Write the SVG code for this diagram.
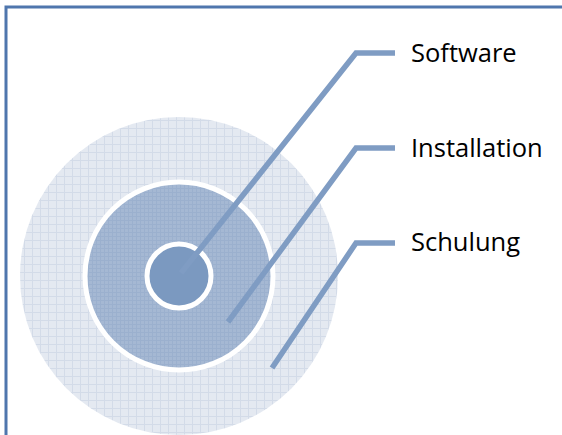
<svg xmlns="http://www.w3.org/2000/svg" width="562" height="435" viewBox="0 0 562 435">
<style>
.lbl{font-family:"Open Sans","Liberation Sans",sans-serif;font-size:25.5px;fill:#000}
.conn{fill:none;stroke:#7f9cc3;stroke-width:5.5;stroke-linejoin:miter}
</style>
<defs>
<pattern id="gOuter" width="8" height="8" patternUnits="userSpaceOnUse">
<rect width="8" height="8" fill="#e4e9f1"/>
<path d="M0 0.5H8M0.5 0V8" stroke="#d3dbe8" stroke-width="1"/>
</pattern>
<pattern id="gMid" width="4" height="4" patternUnits="userSpaceOnUse">
<rect width="4" height="4" fill="#a5b8d3"/>
<path d="M0 0.5H4M0.5 0V4" stroke="#9bb0ce" stroke-width="1"/>
</pattern>
</defs>
<rect width="562" height="435" fill="#fff"/>
<path d="M6 435V7H562" fill="none" stroke="#4f76ad" stroke-width="3"/>
<g id="schulung">
<circle cx="179" cy="276" r="159" fill="url(#gOuter)"/>
</g>
<g id="installation">
<circle cx="179" cy="276" r="94" fill="url(#gMid)" stroke="#fff" stroke-width="5"/>
</g>
<g id="software">
<circle cx="179" cy="276" r="32" fill="#7b99c0" stroke="#fff" stroke-width="5"/>
</g>
<g id="connectors">
<path class="conn" d="M181 273L356 53H395"/>
<path class="conn" d="M228 322L356 148H395"/>
<path class="conn" d="M272 368L356 243H395"/>
</g>
<g id="labels">
<text class="lbl" x="411" y="62">Software</text>
<text class="lbl" x="411" y="157">Installation</text>
<text class="lbl" x="411" y="251">Schulung</text>
</g>
</svg>
